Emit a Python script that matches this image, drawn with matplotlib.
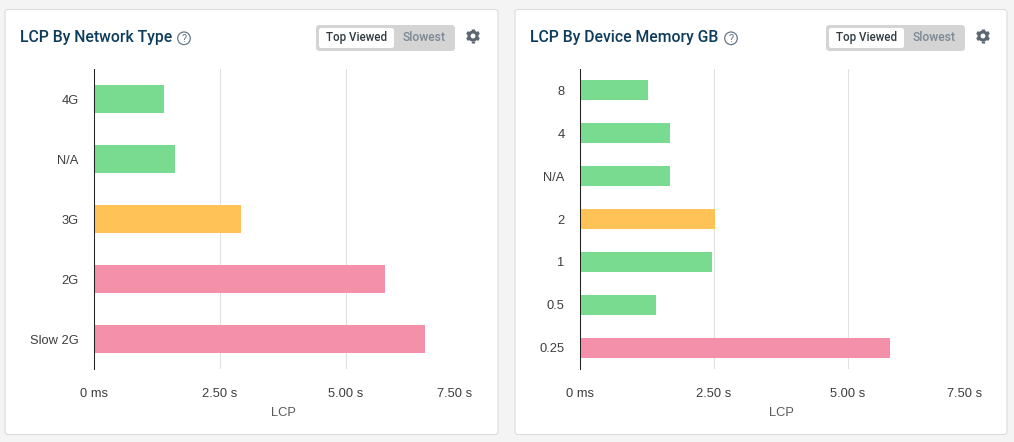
import matplotlib
matplotlib.use('Agg')
import matplotlib.pyplot as plt
import numpy as np
from matplotlib.patches import FancyBboxPatch, Circle

W, H = 1014, 442

GREEN = '#79db90'
ORANGE = '#fec257'
PINK = '#f490aa'

network_labels = ['4G', 'N/A', '3G', '2G', 'Slow 2G']
network_values = [1.38, 1.60, 2.92, 5.78, 6.56]
network_colors = [GREEN, GREEN, ORANGE, PINK, PINK]

memory_labels = ['8', '4', 'N/A', '2', '1', '0.5', '0.25']
memory_values = [1.26, 1.67, 1.67, 2.51, 2.47, 1.41, 5.79]
memory_colors = [GREEN, GREEN, GREEN, ORANGE, GREEN, GREEN, PINK]

x_ticks = [0, 2.5, 5, 7.5]
x_tick_labels = ['0 ms', '2.50 s', '5.00 s', '7.50 s']

fig = plt.figure(figsize=(W / 100, H / 100), dpi=100, facecolor='#f4f4f4')

# background layer in pixel coords, y going down like the screenshot
bg = fig.add_axes([0, 0, 1, 1])
bg.set_xlim(0, W)
bg.set_ylim(H, 0)
bg.axis('off')


def rounded(x, y, w, h, r, **kw):
    p = FancyBboxPatch((x + r, y + r), w - 2 * r, h - 2 * r,
                       boxstyle=f'round,pad={r},rounding_size={r}', **kw)
    bg.add_patch(p)


def gear(cx, cy):
    color = '#5c6670'
    bg.add_patch(Circle((cx, cy), 4, fc='none', ec=color, lw=2.2))
    for a in np.arange(0, 360, 60) + 30:
        t = np.radians(a)
        bg.plot([cx + 4.5 * np.cos(t), cx + 7 * np.cos(t)],
                [cy + 4.5 * np.sin(t), cy + 7 * np.sin(t)],
                color=color, lw=2.4, solid_capstyle='butt')


def card(x, title, help_x):
    rounded(x, 9.5, 493 if x < 500 else 492, 425, 3, fc='white', ec='#dcdcdc', lw=0.8)
    bg.text(x + 15, 37.5, title, fontsize=11.3, fontweight='medium', color='#0d3c5c',
            family='Roboto', va='center')
    # help icon
    bg.add_patch(Circle((help_x, 38.3), 6.3, fc='none', ec='#66788a', lw=0.9))
    bg.text(help_x, 38.5, '?', fontsize=8, color='#66788a', family='Roboto',
            ha='center', va='center')
    # toggle
    rounded(x + 311, 25, 139, 26, 3.5, fc='#d4d4d4', ec='none')
    rounded(x + 314, 28, 75, 20, 2.5, fc='white', ec='none')
    bg.text(x + 351.5, 37.8, 'Top Viewed', fontsize=8.3, fontweight='medium', color='#2f3a42',
            family='Roboto', ha='center', va='center')
    bg.text(x + 419, 37.8, 'Slowest', fontsize=8.7, fontweight='medium', color='#7b8894',
            family='Roboto', ha='center', va='center')
    gear(x + 468, 36)


def chart(x0, x75, labels, values, colors, bar_h):
    ax = fig.add_axes([x0 / W, 1 - 369 / H, (x75 - x0) / W, 300 / H])
    ax.patch.set_alpha(0)
    ypos = list(range(len(labels)))
    ax.barh(ypos, values, height=bar_h, color=colors, zorder=2)
    ax.set_xlim(0, 7.5)
    ax.set_ylim(len(labels) - 0.5, -0.5)
    ax.set_yticks(ypos, labels)
    ax.set_xticks(x_ticks, x_tick_labels)
    ax.tick_params(axis='y', length=0, pad=11, labelsize=9.3, labelcolor='#3d3d3d')
    ax.tick_params(axis='x', length=0, pad=13.4, labelsize=9.3, labelcolor='#3d3d3d')
    for lbl in ax.get_xticklabels()[-1:]:
        lbl.set_ha('right')
    ax.grid(axis='x', color='#e0e0e0', lw=0.75, zorder=0)
    ax.set_axisbelow(True)
    for s in ['top', 'right', 'bottom']:
        ax.spines[s].set_visible(False)
    ax.spines['left'].set_color('#222222')
    ax.spines['left'].set_linewidth(0.75)
    ax.spines['left'].set_zorder(3)
    ax.set_xlabel('LCP', fontsize=9.3, color='#5a5a5a', labelpad=5.5)
    return ax


plt.rcParams['font.family'] = ['Liberation Sans', 'DejaVu Sans']

card(5, 'LCP By Network Type', 184)
card(515, 'LCP By Device Memory GB', 731)

chart(94, 472, network_labels, network_values, network_colors, 28 / 60)
chart(580, 982, memory_labels, memory_values, memory_colors, 20 / 42.9)

fig.savefig('out.png', dpi=100, facecolor=fig.get_facecolor())
